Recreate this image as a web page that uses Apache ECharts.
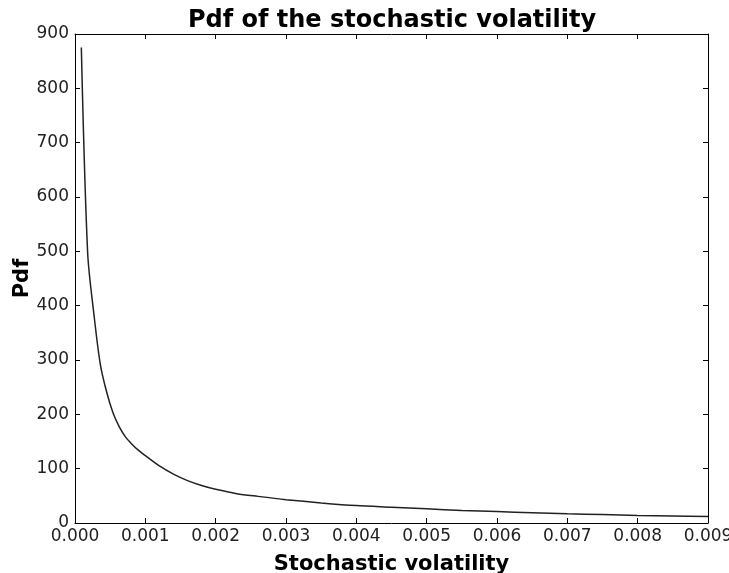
<!DOCTYPE html>
<html>
<head>
<meta charset="utf-8">
<script src="https://cdn.jsdelivr.net/npm/echarts@6/dist/echarts.min.js"></script>
<style>html,body{margin:0;padding:0;background:#fff}#c{width:729px;height:573px}</style>
</head>
<body>
<div id="c"></div>
<script>
const volatility = [0.00009, 0.00018, 0.00027, 0.00036, 0.00045, 0.00054, 0.00063, 0.00072, 0.00081, 0.0009, 0.001, 0.0012, 0.0014, 0.0016, 0.0018, 0.002, 0.0023, 0.0026, 0.003, 0.0035, 0.004, 0.0045, 0.005, 0.0055, 0.006, 0.0065, 0.007, 0.0075, 0.008, 0.0085, 0.009];
const pdf = [875, 497, 383, 292, 241, 203, 177, 158, 145, 134, 124, 105, 90, 78, 69, 62, 54, 49, 43, 37, 32, 29, 26, 23, 21, 19, 17, 15.5, 14, 13, 12];
const xTicks = [0, 0.009, 0.001];
const yTicks = [0, 900, 100];

const chart = echarts.init(document.getElementById('c'), null, {renderer: 'canvas'});
const font = 'DejaVu Sans';
const axisCommon = {
  axisLine: {show: true, onZero: false, lineStyle: {color: '#000', width: 1}},
  axisTick: {show: true, inside: true, length: 5, lineStyle: {color: '#000', width: 1}},
  splitLine: {show: false}
};
chart.setOption({
  animation: false,
  title: {
    text: 'Pdf of the stochastic volatility',
    left: 387, textAlign: 'center', top: 4,
    textStyle: {fontFamily: font, fontWeight: 'bold', fontSize: 24, color: '#000'}
  },
  grid: {left: 75, right: 21, top: 34, bottom: 50, containLabel: false, outerBoundsMode: 'none'},
  xAxis: [
    Object.assign({
      type: 'value', min: xTicks[0], max: xTicks[1], interval: xTicks[2], position: 'bottom',
      name: 'Stochastic volatility', nameLocation: 'middle', nameGap: 31, nameMoveOverlap: false,
      nameTextStyle: {fontFamily: font, fontWeight: 'bold', fontSize: 21, color: '#000'},
      axisLabel: {fontFamily: font, fontSize: 17, color: '#222', margin: 5, formatter: v => v.toFixed(3)}
    }, axisCommon),
    Object.assign({
      type: 'value', min: xTicks[0], max: xTicks[1], interval: xTicks[2], position: 'top',
      axisLabel: {show: false}
    }, axisCommon)
  ],
  yAxis: [
    Object.assign({
      type: 'value', min: yTicks[0], max: yTicks[1], interval: yTicks[2], position: 'left',
      name: 'Pdf', nameLocation: 'middle', nameGap: 42, nameRotate: 90, nameMoveOverlap: false,
      nameTextStyle: {fontFamily: font, fontWeight: 'bold', fontSize: 21, color: '#000'},
      axisLabel: {fontFamily: font, fontSize: 17, color: '#222', margin: 6}
    }, axisCommon),
    Object.assign({
      type: 'value', min: yTicks[0], max: yTicks[1], interval: yTicks[2], position: 'right',
      axisLabel: {show: false}
    }, axisCommon)
  ],
  series: [{
    type: 'line',
    data: volatility.map((v, i) => [v, pdf[i]]),
    showSymbol: false,
    smooth: 0.3,
    lineStyle: {color: '#222', width: 1.5}
  }]
});
</script>
</body>
</html>
